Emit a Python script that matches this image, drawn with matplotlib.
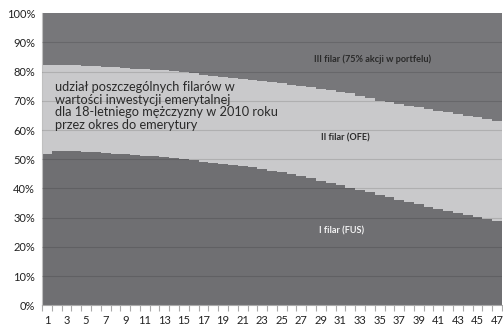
import numpy as np
import matplotlib.pyplot as plt
from matplotlib.ticker import FixedLocator, PercentFormatter

plt.rcParams['font.family'] = ['Lato', 'DejaVu Sans']

# lata do emerytury (1..47)
lata = list(range(1, 48))

# udzial I filaru (FUS), % - dolna krawedz
fus = [51.8, 52.8, 52.8, 52.7, 52.6, 52.4, 52.1, 51.9, 51.7, 51.5,
       51.2, 51.0, 50.8, 50.4, 50.1, 49.7, 49.2, 48.8, 48.5, 48.1,
       47.7, 47.2, 46.7, 46.1, 45.5, 44.9, 44.2, 43.5, 42.7, 41.9,
       41.1, 40.3, 39.5, 38.7, 37.8, 37.0, 36.2, 35.4, 34.6, 33.8,
       33.0, 32.3, 31.6, 30.9, 30.3, 29.6, 28.9]
# suma I + II filaru, %
fus_ofe = [82.1, 82.2, 82.2, 82.1, 82.0, 81.8, 81.6, 81.4, 81.2, 81.0,
           80.8, 80.6, 80.4, 80.1, 79.9, 79.6, 78.9, 78.6, 78.2, 77.9,
           77.5, 77.2, 76.8, 76.4, 76.0, 75.5, 75.0, 74.6, 74.1, 73.7,
           73.1, 72.5, 71.7, 70.8, 70.0, 69.5, 68.9, 68.3, 67.8, 67.2,
           66.6, 66.0, 65.5, 64.9, 64.3, 63.8, 63.2]

ofe = [b - a for a, b in zip(fus, fus_ofe)]
iii = [100 - b for b in fus_ofe]

fig = plt.figure(figsize=(5.03, 3.27), dpi=100)
ax = fig.add_axes([0.0835, 0.066, 0.9145, 0.894])

ax.bar(lata, fus, width=1.0, color='#6f6f72', linewidth=0)
ax.bar(lata, ofe, width=1.0, bottom=fus, color='#c9c9cb', linewidth=0)
ax.bar(lata, iii, width=1.0, bottom=fus_ofe, color='#77777a', linewidth=0)

# linie siatki na wierzchu
for v in range(10, 100, 10):
    ax.axhline(v, color='black', alpha=0.13, linewidth=0.8, zorder=3)

ax.set_xlim(0.5, 47.5)
ax.set_ylim(0, 100)
ax.yaxis.set_major_locator(FixedLocator(range(0, 101, 10)))
ax.yaxis.set_major_formatter(PercentFormatter(decimals=0))
ax.set_xticks(lata[::2])
ax.set_xticklabels([str(l) for l in lata[::2]])
ax.xaxis.set_minor_locator(FixedLocator(np.arange(0.5, 48, 1)))
ax.tick_params(axis='x', which='major', length=0, pad=7, labelsize=8, labelcolor='#222222')
ax.tick_params(axis='x', which='minor', length=4, color='#aaaaaa', width=0.8)
ax.tick_params(axis='y', length=0, pad=5, labelsize=8, labelcolor='#222222')

for s in ['top', 'right']:
    ax.spines[s].set_visible(False)
ax.spines['left'].set_color('#c0c0c0')
ax.spines['bottom'].set_color('#aaaaaa')
ax.spines['bottom'].set_zorder(4)

ax.text(1.8, 76.6,
        'udział poszczególnych filarów w\nwartości inwestycji emerytalnej\n'
        'dla 18-letniego mężczyzny w 2010 roku\nprzez okres do emerytury',
        fontsize=9.2, color='#2a2a2a', va='top', ha='left', linespacing=1.05, zorder=5)
ax.text(34.3, 84.1, 'III filar (75% akcji w portfelu)', fontsize=6.6,
        fontweight='bold', color='#2a2a2a', ha='center', va='center', zorder=5)
ax.text(31.5, 57.4, 'II filar (OFE)', fontsize=6.6, fontweight='bold',
        color='#2a2a2a', ha='center', va='center', zorder=5)
ax.text(31.1, 25.4, 'I filar (FUS)', fontsize=6.6, fontweight='bold',
        color='#f2f2f2', ha='center', va='center', zorder=5)

fig.savefig('out.png', dpi=100)
